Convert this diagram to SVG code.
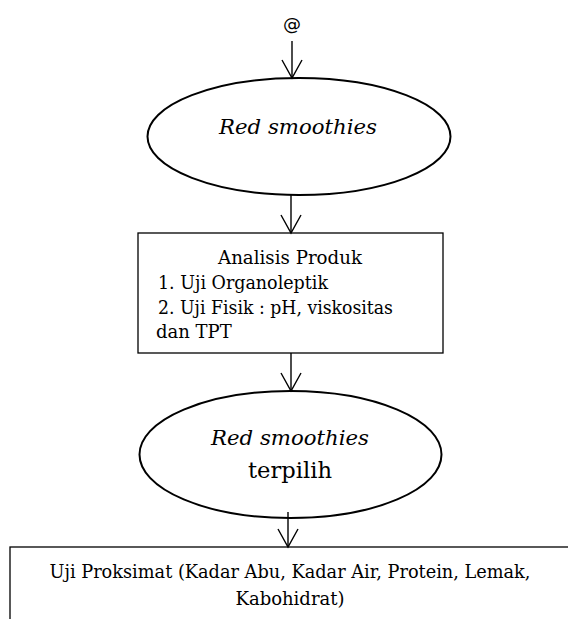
<svg xmlns="http://www.w3.org/2000/svg" width="568" height="619" viewBox="0 0 568 619">
<style>
  .t { font-family: "DejaVu Serif", "Liberation Serif", serif; font-size: 18px; fill: #000; }
  .it { font-style: italic; font-size: 20px; }
  .big { font-size: 22px; }
  .shape { fill: #fff; stroke: #000; stroke-width: 1.3; }
  .ell { fill: #fff; stroke: #000; stroke-width: 2; }
  .conn line { stroke: #000; stroke-width: 1.4; marker-end: url(#arr); }
</style>
<defs>
  <marker id="arr" markerUnits="userSpaceOnUse" markerWidth="24" markerHeight="24" viewBox="-20 -12 24 24" refX="0" refY="0" orient="auto" overflow="visible">
    <path d="M-18,-10 L0,0 L-18,10" fill="none" stroke="#000" stroke-width="1.4"/>
  </marker>
</defs>
<rect width="568" height="619" fill="#fff"/>
<g id="start">
  <text class="t" x="292" y="30" text-anchor="middle" style="font-family:'DejaVu Sans',sans-serif">@</text>
</g>
<g id="node1">
  <ellipse class="ell" cx="299" cy="136.5" rx="151.5" ry="58.5"/>
  <text class="t it" x="298" y="134" text-anchor="middle" textLength="158" lengthAdjust="spacingAndGlyphs">Red smoothies</text>
</g>
<g id="node2">
  <rect class="shape" x="138" y="233" width="305" height="120"/>
  <text class="t" x="290" y="264" text-anchor="middle" textLength="144" lengthAdjust="spacingAndGlyphs">Analisis Produk</text>
  <text class="t" x="158" y="289" textLength="170" lengthAdjust="spacingAndGlyphs">1. Uji Organoleptik</text>
  <text class="t" x="158" y="314" textLength="235" lengthAdjust="spacingAndGlyphs">2. Uji Fisik : pH, viskositas</text>
  <text class="t" x="156" y="338">dan TPT</text>
</g>
<g id="node3">
  <ellipse class="ell" cx="290.5" cy="454.5" rx="151" ry="63.5"/>
  <text class="t it" x="290" y="445" text-anchor="middle" textLength="158" lengthAdjust="spacingAndGlyphs">Red smoothies</text>
  <text class="t big" x="290" y="478" text-anchor="middle" textLength="84" lengthAdjust="spacingAndGlyphs">terpilih</text>
</g>
<g id="node4">
  <rect class="shape" x="10" y="547" width="600" height="100"/>
  <text class="t" x="290" y="578" text-anchor="middle" textLength="481" lengthAdjust="spacingAndGlyphs">Uji Proksimat (Kadar Abu, Kadar Air, Protein, Lemak,</text>
  <text class="t" x="290" y="605" text-anchor="middle">Kabohidrat)</text>
</g>
<g id="connectors" class="conn">
  <line x1="292" y1="41" x2="292" y2="78"/>
  <line x1="291" y1="195" x2="291" y2="233"/>
  <line x1="291" y1="353" x2="291" y2="391"/>
  <line x1="288" y1="512" x2="288" y2="547"/>
</g>
</svg>
